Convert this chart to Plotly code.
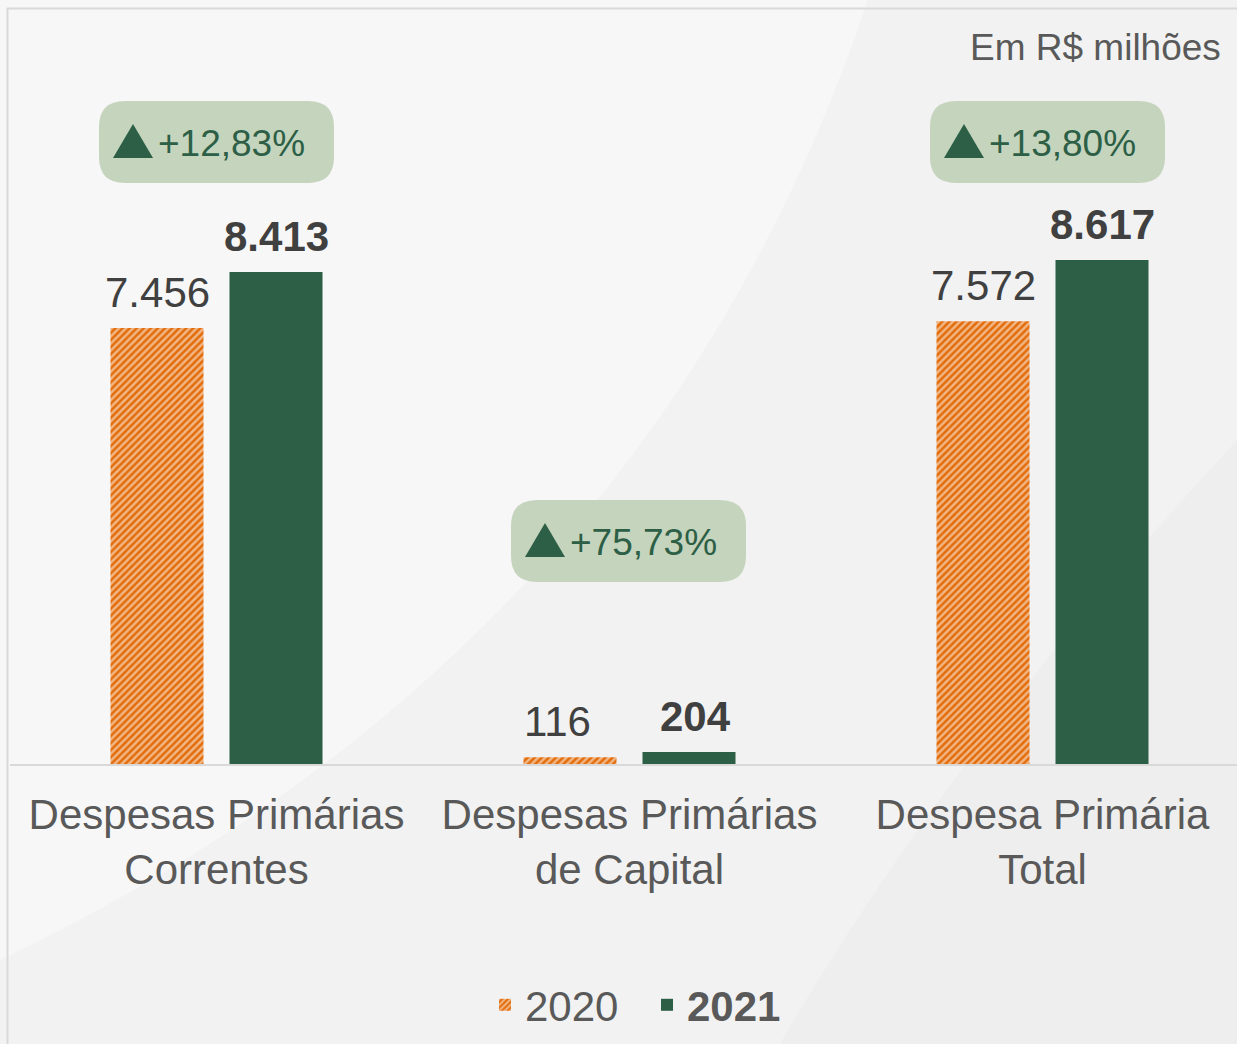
import plotly.graph_objects as go

# ---------------- data ----------------
categories = ["Despesas Primárias<br>Correntes", "Despesas Primárias<br>de Capital", "Despesa Primária<br>Total"]
values_2020 = [7456, 116, 7572]
values_2021 = [8413, 204, 8617]
labels_2020 = ["7.456", "116", "7.572"]
labels_2021 = ["8.413", "204", "8.617"]
changes = ["+12,83%", "+75,73%", "+13,80%"]
series_names = ["2020", "<b>2021</b>"]
unit_note = "Em R$ milhões"

# ---------------- geometry helpers ----------------
W, H = 1237, 1044
ML, MR, MT, MB = 10, 0, 20, 280
PW = W - ML - MR
PH = H - MT - MB
CAT_PX = 413.0
YSCALE = 0.05848  # px per unit
x_range = [-0.5, -0.5 + PW / CAT_PX]
y_range = [0, PH / YSCALE]


def px_x(px):
    return (px - ML) / CAT_PX - 0.5


def px_y(py):
    return (H - MB - py) / YSCALE


def paper_x(px):
    return (px - ML) / PW


def paper_y(py):
    return (H - MB - py) / PH


ORANGE = "#E36C0A"
GREEN = "#2C5F46"
BADGE = "#C5D4BD"
TXT = "#404040"
GREY = "#595959"
FONT = "Liberation Sans, Arial, sans-serif"

xs = list(range(len(categories)))
BAR_W = 93 / CAT_PX
OFF_2020 = -106 / CAT_PX
OFF_2021 = 13 / CAT_PX
label_dx_2020 = [0, -13, 0]
label_dx_2021 = [0, 6, 0]

fig = go.Figure()
fig.add_trace(go.Bar(
    x=xs, y=values_2020, name=series_names[0], width=BAR_W, offset=OFF_2020,
    marker=dict(color=ORANGE, line=dict(width=0),
                pattern=dict(shape="/", fgcolor="white", bgcolor=ORANGE, size=5, solidity=0.5)),
    hoverinfo="skip",
))
fig.add_trace(go.Bar(
    x=xs, y=values_2021, name=series_names[1], width=BAR_W, offset=OFF_2021,
    marker=dict(color=GREEN, line=dict(width=0)),
    hoverinfo="skip",
))

annotations = []
c20 = OFF_2020 + BAR_W / 2
c21 = OFF_2021 + BAR_W / 2
for i in xs:
    annotations.append(dict(x=i + c20, y=values_2020[i], xref="x", yref="y", text=labels_2020[i],
                            showarrow=False, yanchor="bottom", yshift=10, xshift=label_dx_2020[i],
                            font=dict(family=FONT, size=42, color=TXT)))
    annotations.append(dict(x=i + c21, y=values_2021[i], xref="x", yref="y", text="<b>" + labels_2021[i] + "</b>",
                            showarrow=False, yanchor="bottom", yshift=10, xshift=label_dx_2021[i],
                            font=dict(family=FONT, size=42, color=TXT)))

shapes = []
# background panels
shapes.append(dict(type="path", xref="paper", yref="paper", layer="below", line=dict(width=0),
                   fillcolor="#F2F2F2",
                   path=f"M {paper_x(868)},{paper_y(0)} L {paper_x(1237)},{paper_y(0)} L {paper_x(1237)},{paper_y(440)} "
                        f"Q {paper_x(950)},{paper_y(750)} {paper_x(780)},{paper_y(1044)} L {paper_x(0)},{paper_y(1044)} "
                        f"L {paper_x(0)},{paper_y(960)} Q {paper_x(650)},{paper_y(650)} {paper_x(868)},{paper_y(0)} Z"))
shapes.append(dict(type="path", xref="paper", yref="paper", layer="below", line=dict(width=0),
                   fillcolor="#F7F7F7",
                   path=f"M {paper_x(0)},{paper_y(0)} L {paper_x(868)},{paper_y(0)} "
                        f"Q {paper_x(650)},{paper_y(650)} {paper_x(0)},{paper_y(960)} Z"))
# frame lines
shapes.append(dict(type="line", xref="paper", yref="paper", x0=paper_x(7), x1=paper_x(1237),
                   y0=paper_y(8.5), y1=paper_y(8.5), line=dict(color="#D9D9D9", width=2), layer="below"))
shapes.append(dict(type="line", xref="paper", yref="paper", x0=paper_x(7.5), x1=paper_x(7.5),
                   y0=paper_y(8), y1=paper_y(1044), line=dict(color="#D9D9D9", width=2), layer="below"))

# change badges
badge_w, badge_h, rad = 235, 82, 26
badge_tops = [101, 500, 101]
badge_dx = [0, -1, 5]
for i in xs:
    cx = ML + (i + 0.5) * CAT_PX + badge_dx[i]
    l, r = cx - badge_w / 2, cx + badge_w / 2
    t, b = badge_tops[i], badge_tops[i] + badge_h
    p = (f"M {px_x(l + rad)},{px_y(t)} L {px_x(r - rad)},{px_y(t)} Q {px_x(r)},{px_y(t)} {px_x(r)},{px_y(t + rad)} "
         f"L {px_x(r)},{px_y(b - rad)} Q {px_x(r)},{px_y(b)} {px_x(r - rad)},{px_y(b)} "
         f"L {px_x(l + rad)},{px_y(b)} Q {px_x(l)},{px_y(b)} {px_x(l)},{px_y(b - rad)} "
         f"L {px_x(l)},{px_y(t + rad)} Q {px_x(l)},{px_y(t)} {px_x(l + rad)},{px_y(t)} Z")
    shapes.append(dict(type="path", xref="x", yref="y", path=p, fillcolor=BADGE, line=dict(width=0), layer="below"))
    tri = (f"M {px_x(l + 14)},{px_y(t + 57)} L {px_x(l + 54)},{px_y(t + 57)} "
           f"L {px_x(l + 34)},{px_y(t + 23)} Z")
    shapes.append(dict(type="path", xref="x", yref="y", path=tri, fillcolor=GREEN, line=dict(width=0), layer="above"))
    annotations.append(dict(x=px_x(l + 57), y=px_y(t + badge_h / 2 + 1), xref="x", yref="y", text=changes[i],
                            showarrow=False, xanchor="left", yanchor="middle",
                            font=dict(family=FONT, size=37, color=GREEN)))

annotations.append(dict(x=paper_x(1223), y=paper_y(48), xref="paper", yref="paper", text=unit_note,
                        showarrow=False, xanchor="right", yanchor="middle",
                        font=dict(family=FONT, size=37, color=GREY)))

fig.update_layout(
    width=W, height=H,
    margin=dict(l=ML, r=MR, t=MT, b=MB, autoexpand=False),
    paper_bgcolor="#EEEEEE", plot_bgcolor="rgba(0,0,0,0)",
    barmode="group",
    font=dict(family=FONT, color=GREY),
    xaxis=dict(range=x_range, tickvals=xs, ticktext=categories, showgrid=False, zeroline=False,
               showline=True, linecolor="#D9D9D9", linewidth=2, ticks="",
               tickfont=dict(family=FONT, size=42, color=GREY), ticklabelstandoff=13, fixedrange=True),
    yaxis=dict(range=y_range, visible=False, showgrid=False, zeroline=False, fixedrange=True),
    showlegend=True,
    legend=dict(orientation="h", x=paper_x(647), xanchor="center", y=paper_y(1005), yanchor="middle",
                font=dict(family=FONT, size=42, color=GREY), bgcolor="rgba(0,0,0,0)", itemwidth=30,
                entrywidth=117, entrywidthmode="pixels", traceorder="normal"),
    annotations=annotations,
    shapes=shapes,
)

fig.write_html("out.html", config={"displayModeBar": False},
               post_script="document.body.style.margin='0';document.body.style.overflow='hidden';")
